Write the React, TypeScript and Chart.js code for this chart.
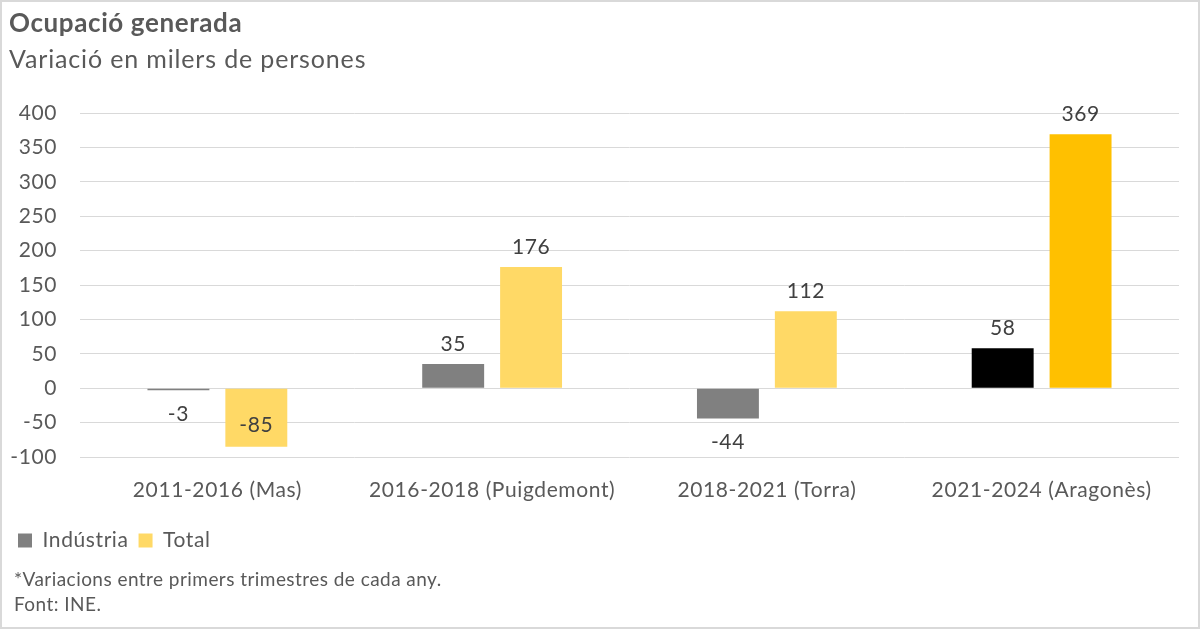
import { useEffect, useRef } from "react";
import { Chart, registerables, ChartConfiguration, Plugin } from "chart.js";

Chart.register(...registerables);

/* ---------------- Data ---------------- */

const periods = [
  "2011-2016 (Mas)",
  "2016-2018 (Puigdemont)",
  "2018-2021 (Torra)",
  "2021-2024 (Aragonès)",
];

const industria = [-3, 35, -44, 58];
const total = [-85, 176, 112, 369];

const industriaColors = ["#808080", "#808080", "#808080", "#000000"];
const totalColors = ["#FFD966", "#FFD966", "#FFD966", "#FFC000"];

const yTicks = [-100, -50, 0, 50, 100, 150, 200, 250, 300, 350, 400];

const FONT = "Lato, 'Open Sans', sans-serif";
const TEXT = "#595959";

/* ---------------- Plugins ---------------- */

// the reference type is a bit wider than Lato, so space the letters a little
const spacing: Plugin<"bar"> = {
  id: "spacing",
  beforeUpdate(chart) {
    (chart.ctx as any).letterSpacing = "0.6px";
  },
  beforeDraw(chart) {
    (chart.ctx as any).letterSpacing = "0.6px";
  },
};

const valueLabels: Plugin<"bar"> = {
  id: "valueLabels",
  afterDatasetsDraw(chart) {
    const { ctx, chartArea } = chart;
    ctx.save();
    ctx.font = `21px ${FONT}`;
    ctx.fillStyle = "#404040";
    ctx.textAlign = "center";
    ctx.textBaseline = "middle";
    chart.data.datasets.forEach((ds, di) => {
      const meta = chart.getDatasetMeta(di);
      meta.data.forEach((el: any, i) => {
        const v = ds.data[i] as number;
        let y: number;
        if (v >= 0) {
          y = el.y - 20;
        } else {
          y = el.y + 24;
          // no room below the bar: keep it inside the bar end
          if (y + 10 > chartArea.bottom) y = el.y - 21;
        }
        ctx.fillText(String(v), el.x, y);
      });
    });
    ctx.restore();
  },
};

/* ---------------- Component ---------------- */

const App = () => {
  const canvasRef = useRef<HTMLCanvasElement | null>(null);
  const chartRef = useRef<Chart<"bar", number[], string> | null>(null);

  useEffect(() => {
    document.body.style.margin = "0";
    if (!canvasRef.current) return;

    if (chartRef.current) chartRef.current.destroy();

    const config: ChartConfiguration<"bar", number[], string> = {
      type: "bar",
      data: {
        labels: periods,
        datasets: [
          {
            label: "Indústria",
            data: industria,
            backgroundColor: industriaColors,
            categoryPercentage: 0.567,
            barPercentage: 0.795,
          },
          {
            label: "Total",
            data: total,
            backgroundColor: totalColors,
            categoryPercentage: 0.567,
            barPercentage: 0.795,
          },
        ],
      },
      options: {
        responsive: true,
        maintainAspectRatio: false,
        animation: false,
        layout: {
          padding: { left: 8, right: 21, top: 113, bottom: 68 },
        },
        plugins: {
          tooltip: { enabled: false },
          legend: {
            position: "bottom",
            align: "start",
            labels: {
              boxWidth: 14,
              boxHeight: 14,
              padding: 10,
              color: TEXT,
              font: { family: FONT, size: 21 },
            },
          },
        },
        scales: {
          x: {
            grid: { display: false, drawTicks: false },
            border: { display: false },
            ticks: {
              color: TEXT,
              padding: 21,
              font: { family: FONT, size: 21 },
            },
            afterFit: (scale) => {
              scale.height = 63;
            },
          },
          y: {
            min: -100,
            max: 400,
            afterBuildTicks: (scale) => {
              scale.ticks = yTicks.map((value) => ({ value }));
            },
            grid: { color: "#d9d9d9", lineWidth: 1, drawTicks: false },
            border: { display: false },
            ticks: {
              color: TEXT,
              padding: 23,
              font: { family: FONT, size: 21 },
            },
            afterFit: (scale) => {
              scale.width = 72;
            },
          },
        },
      },
      plugins: [spacing, valueLabels],
    };

    chartRef.current = new Chart(canvasRef.current, config);

    return () => {
      if (chartRef.current) {
        chartRef.current.destroy();
        chartRef.current = null;
      }
    };
  }, []);

  return (
    <div
      style={{
        position: "relative",
        width: 1200,
        height: 629,
        background: "#fff",
        boxShadow: "inset 0 0 0 2px #d9d9d9",
        fontFamily: FONT,
        color: TEXT,
        overflow: "hidden",
      }}
    >
      <div style={{ position: "absolute", left: 0, top: 0, width: 1200, height: 629 }}>
        <canvas ref={canvasRef}></canvas>
      </div>
      <div
        style={{
          position: "absolute",
          left: 9,
          top: 9,
          fontSize: 26,
          fontWeight: 700,
          lineHeight: 1,
          letterSpacing: 0.6,
          whiteSpace: "nowrap",
        }}
      >
        Ocupació generada
      </div>
      <div
        style={{
          position: "absolute",
          left: 9,
          top: 46,
          fontSize: 25,
          lineHeight: 1,
          letterSpacing: 0.85,
          whiteSpace: "nowrap",
        }}
      >
        Variació en milers de persones
      </div>
      <div
        style={{
          position: "absolute",
          left: 14,
          top: 566,
          fontSize: 19,
          lineHeight: "25px",
          letterSpacing: 0.45,
          whiteSpace: "nowrap",
        }}
      >
        *Variacions entre primers trimestres de cada any.
        <br />
        Font: INE.
      </div>
    </div>
  );
};

export default App;
